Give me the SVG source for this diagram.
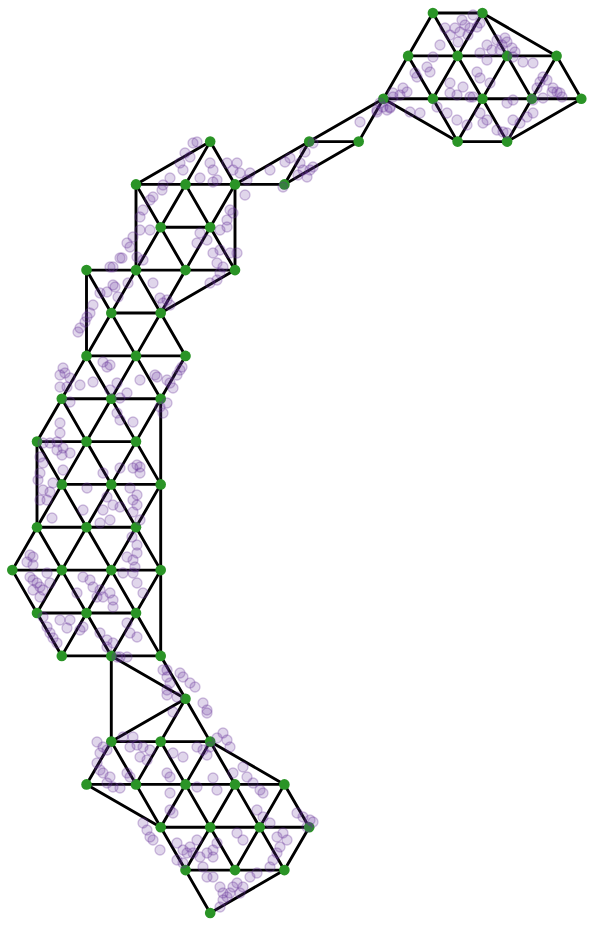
<svg xmlns="http://www.w3.org/2000/svg" width="592" height="926" viewBox="0 0 592 926">
<style>
#connectors line{stroke:#000;stroke-width:2.9;stroke-linecap:round}
.n{fill:#2a9426}
#points circle{fill:#663399;fill-opacity:0.2;stroke:#663399;stroke-opacity:0.3;stroke-width:1.3}
</style>
<rect width="592" height="926" fill="#fff"/>
<g id="connectors">
<line x1="432.9" y1="13" x2="482.4" y2="13"/>
<line x1="432.9" y1="13" x2="408.1" y2="55.9"/>
<line x1="432.9" y1="13" x2="457.6" y2="55.9"/>
<line x1="482.4" y1="13" x2="457.6" y2="55.9"/>
<line x1="482.4" y1="13" x2="507.1" y2="55.9"/>
<line x1="482.4" y1="13" x2="556.6" y2="55.9"/>
<line x1="408.1" y1="55.9" x2="556.6" y2="55.9"/>
<line x1="408.1" y1="55.9" x2="383.4" y2="98.7"/>
<line x1="408.1" y1="55.9" x2="432.9" y2="98.7"/>
<line x1="457.6" y1="55.9" x2="432.9" y2="98.7"/>
<line x1="457.6" y1="55.9" x2="482.4" y2="98.7"/>
<line x1="507.1" y1="55.9" x2="482.4" y2="98.7"/>
<line x1="507.1" y1="55.9" x2="531.8" y2="98.7"/>
<line x1="556.6" y1="55.9" x2="531.8" y2="98.7"/>
<line x1="556.6" y1="55.9" x2="581.3" y2="98.7"/>
<line x1="383.4" y1="98.7" x2="581.3" y2="98.7"/>
<line x1="383.4" y1="98.7" x2="457.6" y2="141.6"/>
<line x1="432.9" y1="98.7" x2="457.6" y2="141.6"/>
<line x1="482.4" y1="98.7" x2="457.6" y2="141.6"/>
<line x1="482.4" y1="98.7" x2="507.1" y2="141.6"/>
<line x1="531.8" y1="98.7" x2="507.1" y2="141.6"/>
<line x1="581.3" y1="98.7" x2="507.1" y2="141.6"/>
<line x1="457.6" y1="141.6" x2="507.1" y2="141.6"/>
<line x1="383.4" y1="98.7" x2="309.2" y2="141.6"/>
<line x1="383.4" y1="98.7" x2="358.7" y2="141.6"/>
<line x1="309.2" y1="141.6" x2="358.7" y2="141.6"/>
<line x1="309.2" y1="141.6" x2="284.4" y2="184.4"/>
<line x1="358.7" y1="141.6" x2="284.4" y2="184.4"/>
<line x1="309.2" y1="141.6" x2="235" y2="184.4"/>
<line x1="210.2" y1="141.6" x2="136" y2="184.4"/>
<line x1="210.2" y1="141.6" x2="185.5" y2="184.4"/>
<line x1="210.2" y1="141.6" x2="235" y2="184.4"/>
<line x1="136" y1="184.4" x2="284.4" y2="184.4"/>
<line x1="136" y1="184.4" x2="136" y2="270.1"/>
<line x1="136" y1="184.4" x2="160.7" y2="227.3"/>
<line x1="185.5" y1="184.4" x2="160.7" y2="227.3"/>
<line x1="185.5" y1="184.4" x2="210.2" y2="227.3"/>
<line x1="235" y1="184.4" x2="210.2" y2="227.3"/>
<line x1="235" y1="184.4" x2="235" y2="270.1"/>
<line x1="160.7" y1="227.3" x2="210.2" y2="227.3"/>
<line x1="160.7" y1="227.3" x2="136" y2="270.1"/>
<line x1="160.7" y1="227.3" x2="185.5" y2="270.1"/>
<line x1="210.2" y1="227.3" x2="185.5" y2="270.1"/>
<line x1="210.2" y1="227.3" x2="235" y2="270.1"/>
<line x1="86.5" y1="270.1" x2="235" y2="270.1"/>
<line x1="86.5" y1="270.1" x2="86.5" y2="355.9"/>
<line x1="86.5" y1="270.1" x2="111.3" y2="313"/>
<line x1="136" y1="270.1" x2="111.3" y2="313"/>
<line x1="136" y1="270.1" x2="160.7" y2="313"/>
<line x1="185.5" y1="270.1" x2="160.7" y2="313"/>
<line x1="235" y1="270.1" x2="160.7" y2="313"/>
<line x1="111.3" y1="313" x2="160.7" y2="313"/>
<line x1="111.3" y1="313" x2="86.5" y2="355.9"/>
<line x1="111.3" y1="313" x2="136" y2="355.9"/>
<line x1="160.7" y1="313" x2="136" y2="355.9"/>
<line x1="160.7" y1="313" x2="185.5" y2="355.9"/>
<line x1="86.5" y1="355.9" x2="185.5" y2="355.9"/>
<line x1="86.5" y1="355.9" x2="61.8" y2="398.7"/>
<line x1="86.5" y1="355.9" x2="111.3" y2="398.7"/>
<line x1="136" y1="355.9" x2="111.3" y2="398.7"/>
<line x1="136" y1="355.9" x2="160.7" y2="398.7"/>
<line x1="185.5" y1="355.9" x2="160.7" y2="398.7"/>
<line x1="61.8" y1="398.7" x2="160.7" y2="398.7"/>
<line x1="160.7" y1="398.7" x2="160.7" y2="655.9"/>
<line x1="61.8" y1="398.7" x2="37" y2="441.6"/>
<line x1="61.8" y1="398.7" x2="86.5" y2="441.6"/>
<line x1="111.3" y1="398.7" x2="86.5" y2="441.6"/>
<line x1="111.3" y1="398.7" x2="136" y2="441.6"/>
<line x1="160.7" y1="398.7" x2="136" y2="441.6"/>
<line x1="37" y1="441.6" x2="136" y2="441.6"/>
<line x1="37" y1="441.6" x2="37" y2="527.3"/>
<line x1="37" y1="441.6" x2="61.8" y2="484.4"/>
<line x1="86.5" y1="441.6" x2="61.8" y2="484.4"/>
<line x1="86.5" y1="441.6" x2="111.3" y2="484.4"/>
<line x1="136" y1="441.6" x2="111.3" y2="484.4"/>
<line x1="136" y1="441.6" x2="160.7" y2="484.4"/>
<line x1="61.8" y1="484.4" x2="160.7" y2="484.4"/>
<line x1="61.8" y1="484.4" x2="37" y2="527.3"/>
<line x1="61.8" y1="484.4" x2="86.5" y2="527.3"/>
<line x1="111.3" y1="484.4" x2="86.5" y2="527.3"/>
<line x1="111.3" y1="484.4" x2="136" y2="527.3"/>
<line x1="160.7" y1="484.4" x2="136" y2="527.3"/>
<line x1="37" y1="527.3" x2="136" y2="527.3"/>
<line x1="37" y1="527.3" x2="12.3" y2="570.1"/>
<line x1="37" y1="527.3" x2="61.8" y2="570.1"/>
<line x1="86.5" y1="527.3" x2="61.8" y2="570.1"/>
<line x1="86.5" y1="527.3" x2="111.3" y2="570.1"/>
<line x1="136" y1="527.3" x2="111.3" y2="570.1"/>
<line x1="136" y1="527.3" x2="160.7" y2="570.1"/>
<line x1="12.3" y1="570.1" x2="160.7" y2="570.1"/>
<line x1="12.3" y1="570.1" x2="37" y2="613"/>
<line x1="61.8" y1="570.1" x2="37" y2="613"/>
<line x1="61.8" y1="570.1" x2="86.5" y2="613"/>
<line x1="111.3" y1="570.1" x2="86.5" y2="613"/>
<line x1="111.3" y1="570.1" x2="136" y2="613"/>
<line x1="160.7" y1="570.1" x2="136" y2="613"/>
<line x1="37" y1="613" x2="136" y2="613"/>
<line x1="37" y1="613" x2="61.8" y2="655.9"/>
<line x1="86.5" y1="613" x2="61.8" y2="655.9"/>
<line x1="86.5" y1="613" x2="111.3" y2="655.9"/>
<line x1="136" y1="613" x2="111.3" y2="655.9"/>
<line x1="136" y1="613" x2="160.7" y2="655.9"/>
<line x1="61.8" y1="655.9" x2="160.7" y2="655.9"/>
<line x1="111.3" y1="655.9" x2="111.3" y2="741.6"/>
<line x1="111.3" y1="655.9" x2="185.5" y2="698.7"/>
<line x1="160.7" y1="655.9" x2="185.5" y2="698.7"/>
<line x1="185.5" y1="698.7" x2="111.3" y2="741.6"/>
<line x1="185.5" y1="698.7" x2="160.7" y2="741.6"/>
<line x1="185.5" y1="698.7" x2="210.2" y2="741.6"/>
<line x1="111.3" y1="741.6" x2="210.2" y2="741.6"/>
<line x1="111.3" y1="741.6" x2="86.5" y2="784.4"/>
<line x1="111.3" y1="741.6" x2="136" y2="784.4"/>
<line x1="160.7" y1="741.6" x2="136" y2="784.4"/>
<line x1="160.7" y1="741.6" x2="185.5" y2="784.4"/>
<line x1="210.2" y1="741.6" x2="185.5" y2="784.4"/>
<line x1="210.2" y1="741.6" x2="235" y2="784.4"/>
<line x1="210.2" y1="741.6" x2="284.4" y2="784.4"/>
<line x1="86.5" y1="784.4" x2="284.4" y2="784.4"/>
<line x1="86.5" y1="784.4" x2="160.7" y2="827.3"/>
<line x1="136" y1="784.4" x2="160.7" y2="827.3"/>
<line x1="185.5" y1="784.4" x2="160.7" y2="827.3"/>
<line x1="185.5" y1="784.4" x2="210.2" y2="827.3"/>
<line x1="235" y1="784.4" x2="210.2" y2="827.3"/>
<line x1="235" y1="784.4" x2="259.7" y2="827.3"/>
<line x1="284.4" y1="784.4" x2="259.7" y2="827.3"/>
<line x1="284.4" y1="784.4" x2="309.2" y2="827.3"/>
<line x1="160.7" y1="827.3" x2="309.2" y2="827.3"/>
<line x1="160.7" y1="827.3" x2="185.5" y2="870.1"/>
<line x1="210.2" y1="827.3" x2="185.5" y2="870.1"/>
<line x1="210.2" y1="827.3" x2="235" y2="870.1"/>
<line x1="259.7" y1="827.3" x2="235" y2="870.1"/>
<line x1="259.7" y1="827.3" x2="284.4" y2="870.1"/>
<line x1="309.2" y1="827.3" x2="284.4" y2="870.1"/>
<line x1="185.5" y1="870.1" x2="284.4" y2="870.1"/>
<line x1="185.5" y1="870.1" x2="210.2" y2="913"/>
<line x1="284.4" y1="870.1" x2="210.2" y2="913"/>
</g>
<g id="nodes">
<g id="n17_0"><circle class="n" cx="432.9" cy="13" r="5.3"/></g>
<g id="n19_0"><circle class="n" cx="482.4" cy="13" r="5.3"/></g>
<g id="n16_1"><circle class="n" cx="408.1" cy="55.9" r="5.3"/></g>
<g id="n18_1"><circle class="n" cx="457.6" cy="55.9" r="5.3"/></g>
<g id="n20_1"><circle class="n" cx="507.1" cy="55.9" r="5.3"/></g>
<g id="n22_1"><circle class="n" cx="556.6" cy="55.9" r="5.3"/></g>
<g id="n15_2"><circle class="n" cx="383.4" cy="98.7" r="5.3"/></g>
<g id="n17_2"><circle class="n" cx="432.9" cy="98.7" r="5.3"/></g>
<g id="n19_2"><circle class="n" cx="482.4" cy="98.7" r="5.3"/></g>
<g id="n21_2"><circle class="n" cx="531.8" cy="98.7" r="5.3"/></g>
<g id="n23_2"><circle class="n" cx="581.3" cy="98.7" r="5.3"/></g>
<g id="n8_3"><circle class="n" cx="210.2" cy="141.6" r="5.3"/></g>
<g id="n12_3"><circle class="n" cx="309.2" cy="141.6" r="5.3"/></g>
<g id="n14_3"><circle class="n" cx="358.7" cy="141.6" r="5.3"/></g>
<g id="n18_3"><circle class="n" cx="457.6" cy="141.6" r="5.3"/></g>
<g id="n20_3"><circle class="n" cx="507.1" cy="141.6" r="5.3"/></g>
<g id="n5_4"><circle class="n" cx="136" cy="184.4" r="5.3"/></g>
<g id="n7_4"><circle class="n" cx="185.5" cy="184.4" r="5.3"/></g>
<g id="n9_4"><circle class="n" cx="235" cy="184.4" r="5.3"/></g>
<g id="n11_4"><circle class="n" cx="284.4" cy="184.4" r="5.3"/></g>
<g id="n6_5"><circle class="n" cx="160.7" cy="227.3" r="5.3"/></g>
<g id="n8_5"><circle class="n" cx="210.2" cy="227.3" r="5.3"/></g>
<g id="n3_6"><circle class="n" cx="86.5" cy="270.1" r="5.3"/></g>
<g id="n5_6"><circle class="n" cx="136" cy="270.1" r="5.3"/></g>
<g id="n7_6"><circle class="n" cx="185.5" cy="270.1" r="5.3"/></g>
<g id="n9_6"><circle class="n" cx="235" cy="270.1" r="5.3"/></g>
<g id="n4_7"><circle class="n" cx="111.3" cy="313" r="5.3"/></g>
<g id="n6_7"><circle class="n" cx="160.7" cy="313" r="5.3"/></g>
<g id="n3_8"><circle class="n" cx="86.5" cy="355.9" r="5.3"/></g>
<g id="n5_8"><circle class="n" cx="136" cy="355.9" r="5.3"/></g>
<g id="n7_8"><circle class="n" cx="185.5" cy="355.9" r="5.3"/></g>
<g id="n2_9"><circle class="n" cx="61.8" cy="398.7" r="5.3"/></g>
<g id="n4_9"><circle class="n" cx="111.3" cy="398.7" r="5.3"/></g>
<g id="n6_9"><circle class="n" cx="160.7" cy="398.7" r="5.3"/></g>
<g id="n1_10"><circle class="n" cx="37" cy="441.6" r="5.3"/></g>
<g id="n3_10"><circle class="n" cx="86.5" cy="441.6" r="5.3"/></g>
<g id="n5_10"><circle class="n" cx="136" cy="441.6" r="5.3"/></g>
<g id="n2_11"><circle class="n" cx="61.8" cy="484.4" r="5.3"/></g>
<g id="n4_11"><circle class="n" cx="111.3" cy="484.4" r="5.3"/></g>
<g id="n6_11"><circle class="n" cx="160.7" cy="484.4" r="5.3"/></g>
<g id="n1_12"><circle class="n" cx="37" cy="527.3" r="5.3"/></g>
<g id="n3_12"><circle class="n" cx="86.5" cy="527.3" r="5.3"/></g>
<g id="n5_12"><circle class="n" cx="136" cy="527.3" r="5.3"/></g>
<g id="n0_13"><circle class="n" cx="12.3" cy="570.1" r="5.3"/></g>
<g id="n2_13"><circle class="n" cx="61.8" cy="570.1" r="5.3"/></g>
<g id="n4_13"><circle class="n" cx="111.3" cy="570.1" r="5.3"/></g>
<g id="n6_13"><circle class="n" cx="160.7" cy="570.1" r="5.3"/></g>
<g id="n1_14"><circle class="n" cx="37" cy="613" r="5.3"/></g>
<g id="n3_14"><circle class="n" cx="86.5" cy="613" r="5.3"/></g>
<g id="n5_14"><circle class="n" cx="136" cy="613" r="5.3"/></g>
<g id="n2_15"><circle class="n" cx="61.8" cy="655.9" r="5.3"/></g>
<g id="n4_15"><circle class="n" cx="111.3" cy="655.9" r="5.3"/></g>
<g id="n6_15"><circle class="n" cx="160.7" cy="655.9" r="5.3"/></g>
<g id="n7_16"><circle class="n" cx="185.5" cy="698.7" r="5.3"/></g>
<g id="n4_17"><circle class="n" cx="111.3" cy="741.6" r="5.3"/></g>
<g id="n6_17"><circle class="n" cx="160.7" cy="741.6" r="5.3"/></g>
<g id="n8_17"><circle class="n" cx="210.2" cy="741.6" r="5.3"/></g>
<g id="n3_18"><circle class="n" cx="86.5" cy="784.4" r="5.3"/></g>
<g id="n5_18"><circle class="n" cx="136" cy="784.4" r="5.3"/></g>
<g id="n7_18"><circle class="n" cx="185.5" cy="784.4" r="5.3"/></g>
<g id="n9_18"><circle class="n" cx="235" cy="784.4" r="5.3"/></g>
<g id="n11_18"><circle class="n" cx="284.4" cy="784.4" r="5.3"/></g>
<g id="n6_19"><circle class="n" cx="160.7" cy="827.3" r="5.3"/></g>
<g id="n8_19"><circle class="n" cx="210.2" cy="827.3" r="5.3"/></g>
<g id="n10_19"><circle class="n" cx="259.7" cy="827.3" r="5.3"/></g>
<g id="n12_19"><circle class="n" cx="309.2" cy="827.3" r="5.3"/></g>
<g id="n7_20"><circle class="n" cx="185.5" cy="870.1" r="5.3"/></g>
<g id="n9_20"><circle class="n" cx="235" cy="870.1" r="5.3"/></g>
<g id="n11_20"><circle class="n" cx="284.4" cy="870.1" r="5.3"/></g>
<g id="n8_21"><circle class="n" cx="210.2" cy="913" r="5.3"/></g>
</g>
<g id="points">
<circle cx="455" cy="28" r="5"/><circle cx="460" cy="32" r="5"/><circle cx="465" cy="25" r="5"/><circle cx="468" cy="35" r="5"/><circle cx="450" cy="35" r="5"/><circle cx="462" cy="20" r="5"/><circle cx="470" cy="28" r="5"/><circle cx="473" cy="15" r="5"/><circle cx="480" cy="23" r="5"/><circle cx="477" cy="27" r="5"/><circle cx="497" cy="40" r="5"/><circle cx="502" cy="45" r="5"/><circle cx="507" cy="42" r="5"/><circle cx="512" cy="48" r="5"/><circle cx="515" cy="52" r="5"/><circle cx="500" cy="50" r="5"/><circle cx="505" cy="38" r="5"/><circle cx="440" cy="45" r="5"/><circle cx="433" cy="57" r="5"/><circle cx="427" cy="67" r="5"/><circle cx="430" cy="72" r="5"/><circle cx="417" cy="77" r="5"/><circle cx="415" cy="73" r="5"/><circle cx="403" cy="88" r="5"/><circle cx="407" cy="92" r="5"/><circle cx="400" cy="95" r="5"/><circle cx="393" cy="97" r="5"/><circle cx="390" cy="107" r="5"/><circle cx="387" cy="110" r="5"/><circle cx="377" cy="110" r="5"/><circle cx="380" cy="103" r="5"/><circle cx="420" cy="113" r="5"/><circle cx="410" cy="112" r="5"/><circle cx="450" cy="83" r="5"/><circle cx="463" cy="87" r="5"/><circle cx="473" cy="97" r="5"/><circle cx="477" cy="72" r="5"/><circle cx="480" cy="78" r="5"/><circle cx="490" cy="83" r="5"/><circle cx="450" cy="93" r="5"/><circle cx="457" cy="95" r="5"/><circle cx="470" cy="97" r="5"/><circle cx="437" cy="107" r="5"/><circle cx="447" cy="113" r="5"/><circle cx="457" cy="120" r="5"/><circle cx="467" cy="125" r="5"/><circle cx="480" cy="113" r="5"/><circle cx="487" cy="120" r="5"/><circle cx="483" cy="123" r="5"/><circle cx="497" cy="130" r="5"/><circle cx="503" cy="132" r="5"/><circle cx="507" cy="133" r="5"/><circle cx="513" cy="120" r="5"/><circle cx="520" cy="123" r="5"/><circle cx="527" cy="117" r="5"/><circle cx="533" cy="113" r="5"/><circle cx="507" cy="103" r="5"/><circle cx="513" cy="100" r="5"/><circle cx="480" cy="53" r="5"/><circle cx="487" cy="60" r="5"/><circle cx="513" cy="57" r="5"/><circle cx="523" cy="62" r="5"/><circle cx="533" cy="63" r="5"/><circle cx="543" cy="77" r="5"/><circle cx="547" cy="80" r="5"/><circle cx="540" cy="82" r="5"/><circle cx="537" cy="88" r="5"/><circle cx="553" cy="88" r="5"/><circle cx="557" cy="92" r="5"/><circle cx="560" cy="93" r="5"/><circle cx="562" cy="97" r="5"/><circle cx="552" cy="92" r="5"/><circle cx="543" cy="98" r="5"/><circle cx="533" cy="100" r="5"/><circle cx="487" cy="45" r="5"/><circle cx="492" cy="50" r="5"/><circle cx="458" cy="42" r="5"/><circle cx="445" cy="28" r="5"/>
<circle cx="383" cy="107" r="5"/><circle cx="377" cy="112" r="5"/><circle cx="390" cy="108" r="5"/><circle cx="393" cy="93" r="5"/><circle cx="360" cy="122" r="5"/><circle cx="313" cy="143" r="5"/><circle cx="305" cy="152" r="5"/><circle cx="290" cy="158" r="5"/><circle cx="285" cy="162" r="5"/><circle cx="300" cy="163" r="5"/><circle cx="303" cy="170" r="5"/><circle cx="310" cy="170" r="5"/><circle cx="307" cy="177" r="5"/><circle cx="298" cy="175" r="5"/><circle cx="313" cy="167" r="5"/><circle cx="270" cy="170" r="5"/><circle cx="283" cy="187" r="5"/>
<circle cx="193" cy="143" r="5"/><circle cx="197" cy="142" r="5"/><circle cx="185" cy="153" r="5"/><circle cx="190" cy="157" r="5"/><circle cx="180" cy="163" r="5"/><circle cx="183" cy="170" r="5"/><circle cx="210" cy="163" r="5"/><circle cx="213" cy="170" r="5"/><circle cx="227" cy="163" r="5"/><circle cx="237" cy="163" r="5"/><circle cx="233" cy="170" r="5"/><circle cx="240" cy="173" r="5"/><circle cx="250" cy="173" r="5"/><circle cx="247" cy="180" r="5"/><circle cx="170" cy="178" r="5"/><circle cx="163" cy="185" r="5"/><circle cx="200" cy="178" r="5"/><circle cx="213" cy="182" r="5"/><circle cx="217" cy="180" r="5"/><circle cx="153" cy="197" r="5"/><circle cx="150" cy="200" r="5"/><circle cx="143" cy="210" r="5"/><circle cx="140" cy="217" r="5"/><circle cx="162" cy="190" r="5"/><circle cx="245" cy="195" r="5"/><circle cx="230" cy="210" r="5"/><circle cx="227" cy="220" r="5"/><circle cx="233" cy="213" r="5"/><circle cx="140" cy="230" r="5"/><circle cx="150" cy="230" r="5"/><circle cx="133" cy="237" r="5"/><circle cx="130" cy="247" r="5"/><circle cx="127" cy="243" r="5"/><circle cx="120" cy="258" r="5"/><circle cx="113" cy="267" r="5"/><circle cx="200" cy="233" r="5"/><circle cx="197" cy="243" r="5"/><circle cx="207" cy="240" r="5"/><circle cx="220" cy="230" r="5"/><circle cx="227" cy="227" r="5"/><circle cx="213" cy="253" r="5"/><circle cx="220" cy="250" r="5"/><circle cx="230" cy="253" r="5"/><circle cx="237" cy="253" r="5"/><circle cx="217" cy="263" r="5"/><circle cx="223" cy="267" r="5"/><circle cx="220" cy="273" r="5"/><circle cx="137" cy="257" r="5"/><circle cx="143" cy="260" r="5"/><circle cx="153" cy="283" r="5"/><circle cx="113" cy="285" r="5"/><circle cx="210" cy="283" r="5"/><circle cx="217" cy="280" r="5"/>
<circle cx="110" cy="267" r="5"/><circle cx="122" cy="258" r="5"/><circle cx="100" cy="293" r="5"/><circle cx="107" cy="292" r="5"/><circle cx="115" cy="287" r="5"/><circle cx="128" cy="283" r="5"/><circle cx="118" cy="297" r="5"/><circle cx="160" cy="298" r="5"/><circle cx="167" cy="300" r="5"/><circle cx="163" cy="303" r="5"/><circle cx="170" cy="305" r="5"/><circle cx="93" cy="305" r="5"/><circle cx="90" cy="313" r="5"/><circle cx="87" cy="317" r="5"/><circle cx="85" cy="322" r="5"/><circle cx="80" cy="328" r="5"/><circle cx="78" cy="332" r="5"/><circle cx="63" cy="368" r="5"/><circle cx="60" cy="375" r="5"/><circle cx="65" cy="373" r="5"/><circle cx="70" cy="378" r="5"/><circle cx="60" cy="387" r="5"/><circle cx="67" cy="387" r="5"/><circle cx="80" cy="385" r="5"/><circle cx="93" cy="382" r="5"/><circle cx="103" cy="362" r="5"/><circle cx="107" cy="367" r="5"/><circle cx="110" cy="365" r="5"/><circle cx="117" cy="383" r="5"/><circle cx="110" cy="390" r="5"/><circle cx="140" cy="380" r="5"/><circle cx="155" cy="375" r="5"/><circle cx="157" cy="377" r="5"/><circle cx="167" cy="380" r="5"/><circle cx="170" cy="383" r="5"/><circle cx="173" cy="388" r="5"/><circle cx="180" cy="370" r="5"/><circle cx="182" cy="367" r="5"/><circle cx="177" cy="375" r="5"/><circle cx="127" cy="393" r="5"/><circle cx="120" cy="398" r="5"/><circle cx="70" cy="402" r="5"/><circle cx="167" cy="403" r="5"/><circle cx="160" cy="407" r="5"/><circle cx="163" cy="413" r="5"/><circle cx="60" cy="423" r="5"/><circle cx="60" cy="433" r="5"/><circle cx="117" cy="413" r="5"/><circle cx="120" cy="420" r="5"/><circle cx="133" cy="422" r="5"/><circle cx="50" cy="443" r="5"/><circle cx="57" cy="442" r="5"/><circle cx="43" cy="443" r="5"/>
<circle cx="57" cy="450" r="5"/><circle cx="63" cy="448" r="5"/><circle cx="70" cy="453" r="5"/><circle cx="62" cy="455" r="5"/><circle cx="40" cy="457" r="5"/><circle cx="43" cy="463" r="5"/><circle cx="40" cy="473" r="5"/><circle cx="38" cy="480" r="5"/><circle cx="63" cy="470" r="5"/><circle cx="53" cy="483" r="5"/><circle cx="43" cy="490" r="5"/><circle cx="50" cy="492" r="5"/><circle cx="40" cy="500" r="5"/><circle cx="47" cy="500" r="5"/><circle cx="52" cy="518" r="5"/><circle cx="87" cy="488" r="5"/><circle cx="137" cy="465" r="5"/><circle cx="140" cy="467" r="5"/><circle cx="133" cy="468" r="5"/><circle cx="140" cy="473" r="5"/><circle cx="120" cy="468" r="5"/><circle cx="103" cy="473" r="5"/><circle cx="130" cy="488" r="5"/><circle cx="137" cy="495" r="5"/><circle cx="133" cy="500" r="5"/><circle cx="137" cy="505" r="5"/><circle cx="133" cy="512" r="5"/><circle cx="107" cy="497" r="5"/><circle cx="113" cy="505" r="5"/><circle cx="120" cy="507" r="5"/><circle cx="103" cy="510" r="5"/><circle cx="110" cy="520" r="5"/><circle cx="100" cy="523" r="5"/><circle cx="83" cy="510" r="5"/><circle cx="140" cy="520" r="5"/><circle cx="132" cy="537" r="5"/><circle cx="137" cy="545" r="5"/><circle cx="137" cy="553" r="5"/><circle cx="133" cy="560" r="5"/><circle cx="135" cy="567" r="5"/><circle cx="127" cy="557" r="5"/><circle cx="30" cy="555" r="5"/><circle cx="33" cy="557" r="5"/><circle cx="27" cy="562" r="5"/><circle cx="33" cy="565" r="5"/><circle cx="30" cy="577" r="5"/><circle cx="33" cy="580" r="5"/><circle cx="37" cy="583" r="5"/><circle cx="40" cy="587" r="5"/><circle cx="43" cy="590" r="5"/><circle cx="33" cy="590" r="5"/><circle cx="40" cy="597" r="5"/><circle cx="50" cy="583" r="5"/><circle cx="47" cy="573" r="5"/><circle cx="83" cy="577" r="5"/><circle cx="90" cy="580" r="5"/><circle cx="93" cy="587" r="5"/><circle cx="100" cy="590" r="5"/><circle cx="103" cy="597" r="5"/><circle cx="110" cy="593" r="5"/><circle cx="113" cy="600" r="5"/><circle cx="97" cy="597" r="5"/><circle cx="77" cy="593" r="5"/><circle cx="123" cy="573" r="5"/><circle cx="133" cy="573" r="5"/><circle cx="137" cy="583" r="5"/><circle cx="143" cy="593" r="5"/><circle cx="113" cy="607" r="5"/><circle cx="43" cy="617" r="5"/><circle cx="47" cy="627" r="5"/><circle cx="50" cy="633" r="5"/><circle cx="53" cy="638" r="5"/><circle cx="57" cy="643" r="5"/><circle cx="60" cy="620" r="5"/><circle cx="70" cy="620" r="5"/><circle cx="67" cy="628" r="5"/><circle cx="80" cy="630" r="5"/><circle cx="83" cy="627" r="5"/><circle cx="100" cy="633" r="5"/><circle cx="107" cy="640" r="5"/><circle cx="113" cy="643" r="5"/><circle cx="127" cy="623" r="5"/><circle cx="130" cy="633" r="5"/><circle cx="137" cy="637" r="5"/><circle cx="117" cy="657" r="5"/><circle cx="127" cy="657" r="5"/><circle cx="167" cy="670" r="5"/>
<circle cx="107" cy="647" r="5"/><circle cx="120" cy="657" r="5"/><circle cx="163" cy="670" r="5"/><circle cx="167" cy="677" r="5"/><circle cx="180" cy="673" r="5"/><circle cx="183" cy="677" r="5"/><circle cx="190" cy="683" r="5"/><circle cx="195" cy="687" r="5"/><circle cx="170" cy="683" r="5"/><circle cx="167" cy="690" r="5"/><circle cx="167" cy="695" r="5"/><circle cx="177" cy="697" r="5"/><circle cx="203" cy="703" r="5"/><circle cx="207" cy="710" r="5"/><circle cx="207" cy="713" r="5"/><circle cx="173" cy="712" r="5"/><circle cx="97" cy="742" r="5"/><circle cx="103" cy="747" r="5"/><circle cx="100" cy="753" r="5"/><circle cx="107" cy="750" r="5"/><circle cx="123" cy="737" r="5"/><circle cx="133" cy="737" r="5"/><circle cx="137" cy="745" r="5"/><circle cx="130" cy="747" r="5"/><circle cx="143" cy="747" r="5"/><circle cx="150" cy="750" r="5"/><circle cx="140" cy="757" r="5"/><circle cx="147" cy="760" r="5"/><circle cx="173" cy="753" r="5"/><circle cx="183" cy="757" r="5"/><circle cx="197" cy="747" r="5"/><circle cx="203" cy="750" r="5"/><circle cx="207" cy="755" r="5"/><circle cx="210" cy="747" r="5"/><circle cx="223" cy="733" r="5"/><circle cx="227" cy="740" r="5"/><circle cx="230" cy="747" r="5"/><circle cx="217" cy="738" r="5"/><circle cx="97" cy="763" r="5"/><circle cx="100" cy="770" r="5"/><circle cx="103" cy="773" r="5"/><circle cx="110" cy="777" r="5"/><circle cx="107" cy="783" r="5"/><circle cx="113" cy="787" r="5"/><circle cx="120" cy="788" r="5"/><circle cx="127" cy="773" r="5"/><circle cx="130" cy="777" r="5"/><circle cx="167" cy="773" r="5"/><circle cx="170" cy="777" r="5"/><circle cx="170" cy="793" r="5"/><circle cx="197" cy="787" r="5"/><circle cx="213" cy="778" r="5"/><circle cx="217" cy="790" r="5"/><circle cx="233" cy="773" r="5"/><circle cx="243" cy="767" r="5"/><circle cx="247" cy="777" r="5"/><circle cx="253" cy="783" r="5"/><circle cx="260" cy="790" r="5"/><circle cx="263" cy="793" r="5"/><circle cx="143" cy="823" r="5"/><circle cx="147" cy="830" r="5"/><circle cx="150" cy="837" r="5"/><circle cx="153" cy="840" r="5"/><circle cx="170" cy="810" r="5"/><circle cx="173" cy="813" r="5"/><circle cx="160" cy="850" r="5"/><circle cx="177" cy="843" r="5"/><circle cx="183" cy="850" r="5"/><circle cx="187" cy="853" r="5"/><circle cx="177" cy="860" r="5"/><circle cx="183" cy="863" r="5"/><circle cx="193" cy="853" r="5"/><circle cx="200" cy="857" r="5"/><circle cx="207" cy="853" r="5"/><circle cx="213" cy="850" r="5"/><circle cx="217" cy="843" r="5"/><circle cx="203" cy="867" r="5"/><circle cx="257" cy="810" r="5"/><circle cx="263" cy="817" r="5"/><circle cx="270" cy="823" r="5"/><circle cx="277" cy="837" r="5"/><circle cx="283" cy="833" r="5"/><circle cx="287" cy="840" r="5"/><circle cx="280" cy="847" r="5"/><circle cx="277" cy="853" r="5"/><circle cx="273" cy="860" r="5"/><circle cx="270" cy="867" r="5"/><circle cx="297" cy="813" r="5"/><circle cx="303" cy="817" r="5"/><circle cx="310" cy="820" r="5"/><circle cx="313" cy="822" r="5"/><circle cx="307" cy="827" r="5"/><circle cx="207" cy="877" r="5"/><circle cx="213" cy="877" r="5"/><circle cx="220" cy="887" r="5"/><circle cx="223" cy="893" r="5"/><circle cx="227" cy="897" r="5"/><circle cx="230" cy="893" r="5"/><circle cx="233" cy="887" r="5"/><circle cx="237" cy="883" r="5"/><circle cx="243" cy="887" r="5"/><circle cx="240" cy="893" r="5"/><circle cx="223" cy="900" r="5"/><circle cx="220" cy="907" r="5"/><circle cx="250" cy="877" r="5"/><circle cx="257" cy="873" r="5"/><circle cx="237" cy="833" r="5"/><circle cx="243" cy="840" r="5"/><circle cx="197" cy="840" r="5"/><circle cx="190" cy="847" r="5"/><circle cx="213" cy="857" r="5"/>
</g>
</svg>
